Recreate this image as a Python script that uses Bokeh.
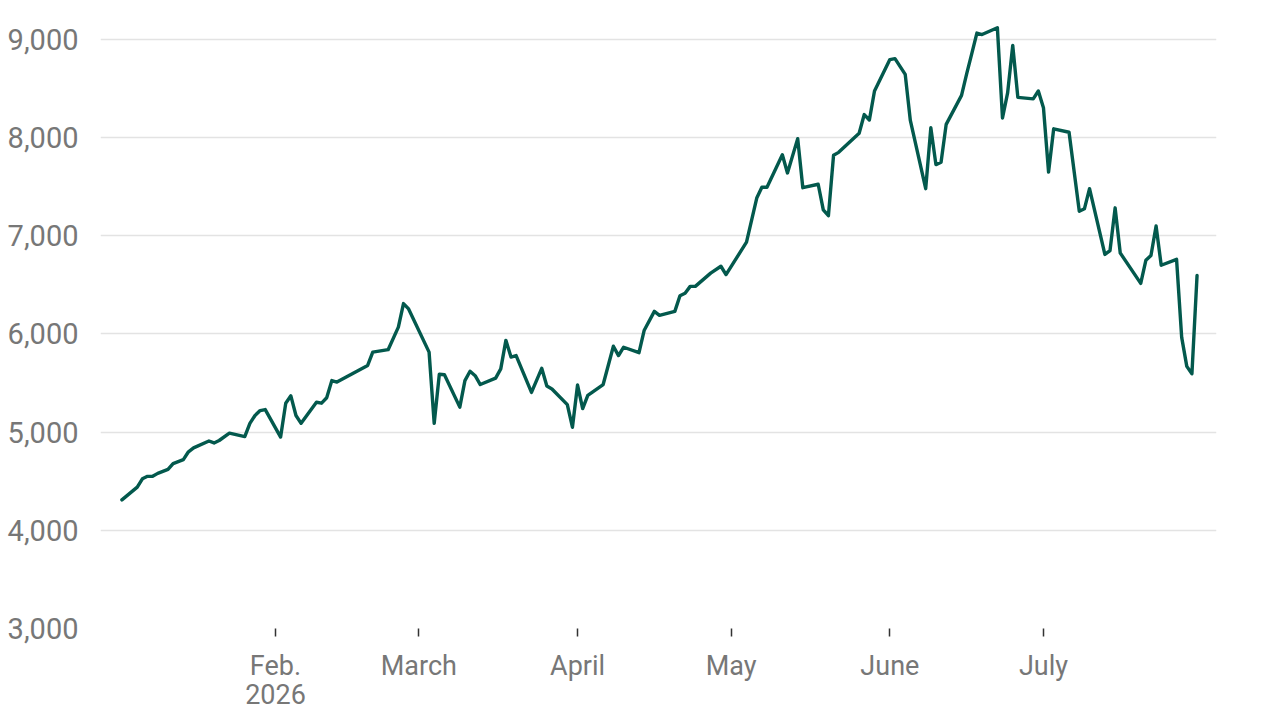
import pandas as pd
from bokeh.plotting import figure
from bokeh.models import Range1d, FixedTicker, NumeralTickFormatter, ColumnDataSource, DatetimeAxis
from bokeh.embed import file_html
from bokeh.resources import INLINE

dates = [
    "2026-01-02", "2026-01-05", "2026-01-06", "2026-01-07", "2026-01-08", "2026-01-09",
    "2026-01-11", "2026-01-12", "2026-01-14", "2026-01-15", "2026-01-16", "2026-01-19",
    "2026-01-20", "2026-01-21", "2026-01-23", "2026-01-26", "2026-01-27", "2026-01-28",
    "2026-01-29", "2026-01-30", "2026-02-02", "2026-02-03", "2026-02-04", "2026-02-05",
    "2026-02-06", "2026-02-09", "2026-02-10", "2026-02-11", "2026-02-12", "2026-02-13",
    "2026-02-19", "2026-02-20", "2026-02-23", "2026-02-25", "2026-02-26", "2026-02-27",
    "2026-03-03", "2026-03-04", "2026-03-05", "2026-03-06", "2026-03-09", "2026-03-10",
    "2026-03-11", "2026-03-12", "2026-03-13", "2026-03-16", "2026-03-17", "2026-03-18",
    "2026-03-19", "2026-03-20", "2026-03-23", "2026-03-25", "2026-03-26", "2026-03-27",
    "2026-03-30", "2026-03-31", "2026-04-01", "2026-04-02", "2026-04-03", "2026-04-06",
    "2026-04-08", "2026-04-09", "2026-04-10", "2026-04-13", "2026-04-14", "2026-04-16",
    "2026-04-17", "2026-04-20", "2026-04-21", "2026-04-22", "2026-04-23", "2026-04-24",
    "2026-04-27", "2026-04-29", "2026-04-30", "2026-05-04", "2026-05-06", "2026-05-07",
    "2026-05-08", "2026-05-11", "2026-05-12", "2026-05-14", "2026-05-15", "2026-05-18",
    "2026-05-19", "2026-05-20", "2026-05-21", "2026-05-22", "2026-05-26", "2026-05-27",
    "2026-05-28", "2026-05-29", "2026-06-01", "2026-06-02", "2026-06-04", "2026-06-05",
    "2026-06-08", "2026-06-09", "2026-06-10", "2026-06-11", "2026-06-12", "2026-06-15",
    "2026-06-16", "2026-06-17", "2026-06-18", "2026-06-19", "2026-06-22", "2026-06-23",
    "2026-06-24", "2026-06-25", "2026-06-26", "2026-06-29", "2026-06-30", "2026-07-01",
    "2026-07-02", "2026-07-03", "2026-07-06", "2026-07-08", "2026-07-09", "2026-07-10",
    "2026-07-13", "2026-07-14", "2026-07-15", "2026-07-16", "2026-07-20", "2026-07-21",
    "2026-07-22", "2026-07-23", "2026-07-24", "2026-07-27", "2026-07-28", "2026-07-29",
    "2026-07-30", "2026-07-31",
]

values = [
    4310, 4440, 4525, 4550, 4550, 4580,
    4620, 4680, 4720, 4800, 4840, 4910,
    4890, 4915, 4990, 4955, 5090, 5170,
    5220, 5230, 4950, 5295, 5370, 5170,
    5090, 5305, 5295, 5350, 5525, 5510,
    5680, 5815, 5840, 6070, 6310, 6255,
    5815, 5090, 5590, 5585, 5255, 5525,
    5620, 5575, 5485, 5550, 5645, 5935,
    5765, 5780, 5405, 5650, 5470, 5440,
    5280, 5050, 5480, 5240, 5375, 5485,
    5875, 5780, 5865, 5810, 6035, 6230,
    6190, 6230, 6390, 6415, 6485, 6485,
    6620, 6690, 6605, 6935, 7385, 7495,
    7495, 7825, 7640, 7990, 7490, 7525,
    7265, 7205, 7820, 7850, 8045, 8235,
    8180, 8475, 8795, 8805, 8645, 8175,
    7480, 8100, 7725, 7750, 8135, 8430,
    8650, 8855, 9065, 9050, 9120, 8200,
    8455, 8940, 8410, 8395, 8475, 8305,
    7650, 8090, 8055, 7250, 7275, 7480,
    6810, 6850, 7285, 6825, 6515, 6750,
    6800, 7100, 6700, 6760, 5965, 5670,
    5595, 6595,
]

tick_dates = ["2026-02-01", "2026-03-01", "2026-04-01", "2026-05-01", "2026-06-01", "2026-07-01"]
tick_labels = ["Feb.", "March", "April", "May", "June", "July"]
year_label = "2026"
y_ticks = [3000, 4000, 5000, 6000, 7000, 8000, 9000]


def ms(s):
    return pd.Timestamp(s).value // 10**6


DAY = 86400000
x0 = ms("2026-01-01")

source = ColumnDataSource(data=dict(x=pd.to_datetime(dates), y=values))

p = figure(
    width=1270, height=712,
    x_axis_type="datetime",
    x_range=Range1d(x0 - 3.18 * DAY, x0 + 214.8 * DAY),
    y_range=Range1d(3000, 9295),
    output_backend="svg",
    toolbar_location=None,
    min_border_left=100, min_border_right=54, min_border_top=10, min_border_bottom=84,
)
p.outline_line_color = None
p.background_fill_color = "white"
p.border_fill_color = "white"

p.line("x", "y", source=source, line_color="#03594d", line_width=3.4,
       line_join="round", line_cap="round")

font = "Roboto"
label_color = "#777777"

# y axis
p.yaxis.ticker = FixedTicker(ticks=y_ticks)
p.yaxis.formatter = NumeralTickFormatter(format="0,0")
p.yaxis.axis_line_color = None
p.yaxis.major_tick_line_color = None
p.yaxis.minor_tick_line_color = None
p.yaxis.major_label_standoff = 16
p.yaxis.major_label_text_font = font
p.yaxis.major_label_text_font_size = "29px"
p.yaxis.major_label_text_color = label_color

# x axis (month names)
xt = [ms(d) for d in tick_dates]
p.xaxis.ticker = FixedTicker(ticks=xt)
p.xaxis.major_label_overrides = {t: l for t, l in zip(xt, tick_labels)}
p.xaxis.axis_line_color = None
p.xaxis.major_tick_line_color = "#333333"
p.xaxis.major_tick_line_width = 1.5
p.xaxis.major_tick_in = 0
p.xaxis.major_tick_out = 8
p.xaxis.minor_tick_line_color = None
p.xaxis.major_label_standoff = 13
p.xaxis.major_label_text_font = font
p.xaxis.major_label_text_font_size = "27px"
p.xaxis.major_label_text_color = label_color

# second line: the year under "Feb."
year_axis = DatetimeAxis(ticker=FixedTicker(ticks=[xt[0]]))
year_axis.major_label_overrides = {xt[0]: year_label}
year_axis.axis_line_color = None
year_axis.major_tick_line_color = None
year_axis.minor_tick_line_color = None
year_axis.major_tick_in = 0
year_axis.major_tick_out = 0
year_axis.major_label_standoff = -1
year_axis.major_label_text_font = font
year_axis.major_label_text_font_size = "27px"
year_axis.major_label_text_color = label_color
p.add_layout(year_axis, "below")

# grid
p.xgrid.grid_line_color = None
p.ygrid.ticker = FixedTicker(ticks=y_ticks)
p.ygrid.grid_line_color = "#e3e3e3"
p.ygrid.grid_line_width = 1.5

open("out.html", "w").write(file_html(p, INLINE))
